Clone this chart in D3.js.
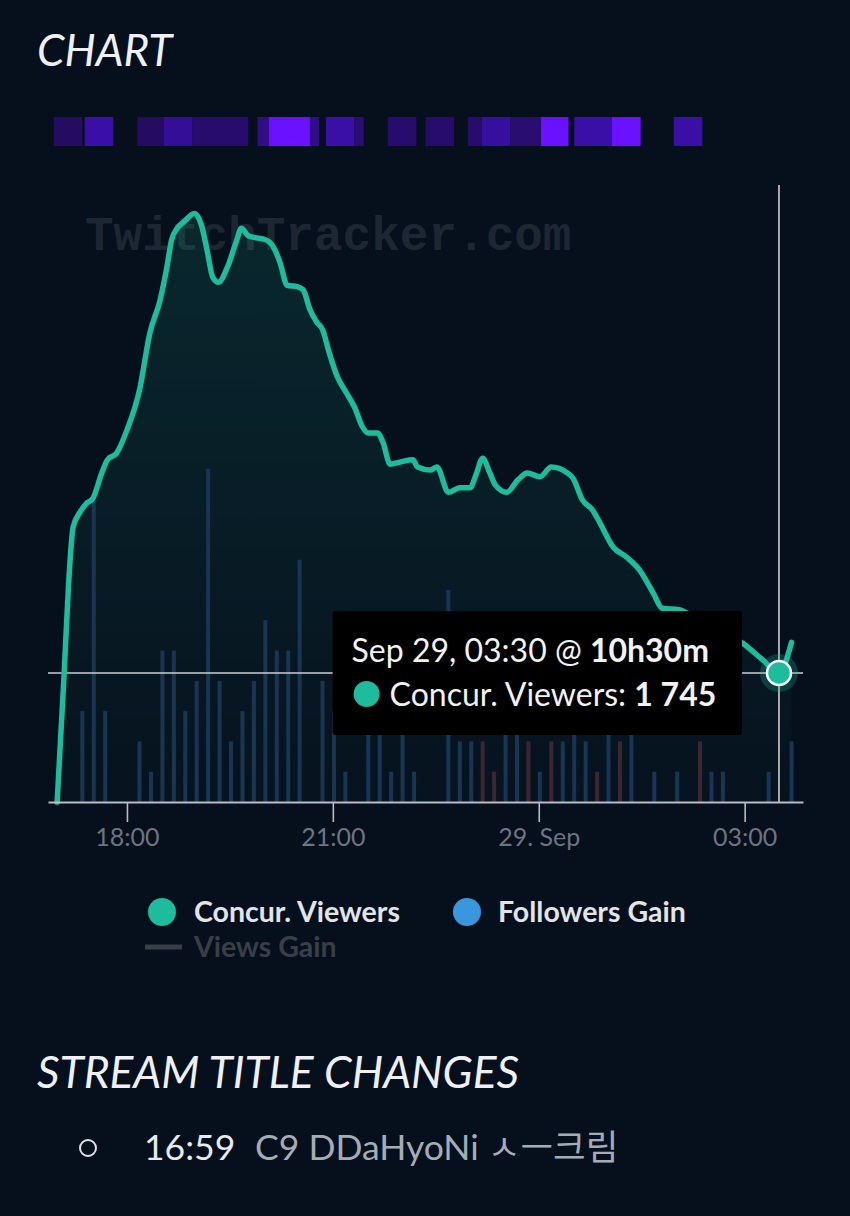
<!DOCTYPE html>
<html><head><meta charset="utf-8">
<script src="https://cdn.jsdelivr.net/npm/d3@7"></script>
<style>html,body{margin:0;padding:0;background:#060f1c;} svg{display:block;}</style>
</head><body><div id="c"></div>
<script>
// ---------- DATA ----------
const viewerTimes = ["16:59","17:05","17:09","17:13","17:19","17:25","17:30","17:38","17:43","17:51","18:00","18:11","18:20","18:29","18:35","18:39","18:44","18:50","18:59","19:05","19:10","19:15","19:20","19:28","19:36","19:40","19:46","20:02","20:08","20:14","20:20","20:29","20:34","20:40","20:46","20:51","20:57","21:04","21:12","21:19","21:26","21:31","21:39","21:44","21:50","21:59","22:10","22:14","22:25","22:31","22:41","22:51","23:00","23:05","23:11","23:17","23:22","23:32","23:42","23:50","00:01","00:11","00:25","00:30","00:38","00:47","00:53","01:05","01:17","01:28","01:40","01:48","02:03","02:09","02:34","02:58","03:16","03:30","03:41"];
const viewerValues = [0,1700,2950,3720,3920,4045,4100,4450,4630,4720,5030,5570,6340,6790,7240,7600,7760,7850,7960,7810,7470,7100,7030,7240,7600,7760,7660,7600,7510,7290,6990,6970,6930,6660,6490,6390,6070,5750,5530,5340,5070,4990,4990,4860,4570,4600,4630,4530,4490,4530,4190,4250,4250,4420,4650,4460,4290,4190,4360,4450,4400,4530,4450,4380,4090,3950,3790,3450,3310,3140,2830,2620,2600,2560,2350,2150,1920,1745,2160];

const barTimes = ["17:21","17:31","17:41","17:51","18:01","18:11","18:21","18:31","18:41","18:51","19:01","19:11","19:21","19:31","19:41","19:51","20:01","20:11","20:21","20:31","20:41","20:51","21:01","21:11","21:21","21:31","21:41","21:51","22:01","22:11","22:21","22:31","22:41","22:51","23:01","23:11","23:21","23:31","23:41","23:51","00:01","00:11","00:21","00:31","00:41","00:51","01:01","01:11","01:21","01:31","01:41","01:51","02:01","02:11","02:21","02:31","02:41","02:51","03:01","03:11","03:21","03:31","03:41"];
// followers gained per slot (negative = lost, drawn in red)
const followerGain = [3,10,3,0,0,2,1,5,5,3,4,11,4,2,3,4,6,5,5,8,0,4,3,1,0,3,3,1,3,1,0,0,7,2,2,-2,-1,3,3,-2,1,-2,2,3,2,-1,3,-2,3,0,1,0,1,0,-2,1,1,0,0,0,1,0,2];

const heatStart = ["16:56","17:23","18:09","18:32","18:57","19:54","20:04","20:40","20:54","21:19","21:48","22:21","22:58","23:10","23:35","00:02","00:31","01:04","01:58"];
const heatEnd   = ["17:21","17:48","18:32","18:57","19:46","20:04","20:40","20:48","21:19","21:27","22:13","22:46","23:10","23:35","00:02","00:26","01:04","01:29","02:23"];
const heatLevel = [1,3,1,2.5,1.3,2,5,2,3,1.5,1.3,1.3,1.3,2.7,1.4,5,3,5,3];

const tickTimes = ["18:00","21:00","00:00","03:00"];
const tickLabels = ["18:00","21:00","29. Sep","03:00"];

const hoverTime = "03:30", hoverValue = 1745, hoverLabel = "Sep 29, 03:30 @ ", hoverDuration = "10h30m";
const titleTimes = ["16:59"];
const titleTexts = ["C9 DDaHyoNi ㅅㅡ크림"];

// ---------- HELPERS ----------
const parse = s => { const [h,m] = s.split(":").map(Number); return new Date(Date.UTC(2019, 8, h >= 12 ? 28 : 29, h, m)); };

const W = 850, H = 1216;
const teal = "#1dbc9c", blue = "#3a97dd";
const svg = d3.select("#c").append("svg").attr("width", W).attr("height", H);
svg.append("rect").attr("width", W).attr("height", H).attr("fill", "#060f1c");

const x = d3.scaleUtc().domain([parse("16:51"), parse("03:51")]).range([48, 803]);
const y = d3.scaleLinear().domain([0, 8400]).range([802, 181]);
const yb = d3.scaleLinear().domain([0, 20.5]).range([802, 181]);
const heatColor = d3.scaleLinear().domain([1, 3, 5]).range(["#250c62", "#3a0fa8", "#6a12ff"]);

// Titles
svg.append("text").attr("x", 37).attr("y", 66).attr("font-family", "Lato").attr("font-style", "italic")
  .attr("font-size", 44).attr("fill", "#eef0f4").text("CHART");

// Heat strip
svg.append("g").selectAll("rect").data(heatStart).join("rect")
  .attr("x", (d, i) => x(parse(d)))
  .attr("width", (d, i) => x(parse(heatEnd[i])) - x(parse(d)))
  .attr("y", 117).attr("height", 29)
  .attr("fill", (d, i) => heatColor(heatLevel[i]));

// Watermark
svg.append("text").attr("x", 85).attr("y", 250).attr("font-family", "Liberation Mono").attr("font-weight", "bold")
  .attr("font-size", 47.7).attr("fill", "#1c2733").text("TwitchTracker.com");

// Area gradient
const defs = svg.append("defs");
const grad = defs.append("linearGradient").attr("id", "ag").attr("x1", 0).attr("y1", 0).attr("x2", 0).attr("y2", 1);
grad.append("stop").attr("offset", "0%").attr("stop-color", teal).attr("stop-opacity", 0.14);
grad.append("stop").attr("offset", "100%").attr("stop-color", teal).attr("stop-opacity", 0.02);

const pts = viewerTimes.map((t, i) => [parse(t), viewerValues[i]]);
const curve = d3.curveMonotoneX;
svg.append("path").datum(pts)
  .attr("d", d3.area().x(d => x(d[0])).y0(y(0)).y1(d => y(d[1])).curve(curve))
  .attr("fill", "url(#ag)");

// Bars
svg.append("g").selectAll("rect").data(barTimes).join("rect")
  .attr("x", d => x(parse(d)) - 2)
  .attr("width", 4)
  .attr("y", (d, i) => yb(Math.abs(followerGain[i])))
  .attr("height", (d, i) => yb(0) - yb(Math.abs(followerGain[i])))
  .attr("fill", (d, i) => followerGain[i] < 0 ? "#3c2632" : "#183653");

// Crosshairs
const hx = x(parse(hoverTime)), hy = y(hoverValue);
svg.append("line").attr("x1", hx).attr("x2", hx).attr("y1", 185).attr("y2", 802)
  .attr("stroke", "#cfcfcf").attr("stroke-width", 1.6);
svg.append("line").attr("x1", 48).attr("x2", 803).attr("y1", hy).attr("y2", hy)
  .attr("stroke", "#cfcfcf").attr("stroke-width", 1.6);

// Line
svg.append("path").datum(pts)
  .attr("d", d3.line().x(d => x(d[0])).y(d => y(d[1])).curve(curve))
  .attr("fill", "none").attr("stroke", teal).attr("stroke-width", 5.5)
  .attr("stroke-linejoin", "round").attr("stroke-linecap", "round");

// Axis
const ax = svg.append("g").attr("transform", "translate(0,802)")
  .call(d3.axisBottom(x).tickValues(tickTimes.map(parse)).tickFormat((d, i) => tickLabels[i])
    .tickSize(20).tickSizeOuter(0).tickPadding(6));
ax.select(".domain").attr("stroke", "#b9bcc0").attr("stroke-width", 2);
ax.selectAll(".tick line").attr("stroke", "#b9bcc0").attr("stroke-width", 1.6);
ax.selectAll(".tick text").attr("fill", "#6c7580").attr("font-family", "Lato").attr("font-size", 25);

// Marker
svg.append("circle").attr("cx", hx).attr("cy", hy).attr("r", 19).attr("fill", teal).attr("fill-opacity", 0.25);
svg.append("circle").attr("cx", hx).attr("cy", hy).attr("r", 12).attr("fill", teal).attr("stroke", "#ffffff").attr("stroke-width", 2.5);

// Tooltip
const tg = svg.append("g");
const box = tg.append("rect").attr("fill", "#000000");
const t1 = tg.append("text").attr("font-family", "Lato").attr("font-size", 32).attr("fill", "#f2f2f2");
t1.append("tspan").text(hoverLabel);
t1.append("tspan").attr("font-weight", "bold").text(hoverDuration);
const t2 = tg.append("text").attr("font-family", "Lato").attr("font-size", 32).attr("fill", "#f2f2f2");
t2.append("tspan").text("Concur. Viewers: ");
t2.append("tspan").attr("font-weight", "bold").text(d3.format(",")(hoverValue).replace(/,/g, " "));
const w1 = t1.node().getComputedTextLength() + 52, w2 = t2.node().getComputedTextLength() + 78;
const bw = Math.max(w1, w2), bh = 124;
const bx = hx - 37 - bw, by = hy - bh / 2;
box.attr("x", bx).attr("y", by).attr("width", bw).attr("height", bh).attr("rx", 2);
t1.attr("x", bx + 19).attr("y", by + 51);
tg.append("circle").attr("cx", bx + 34).attr("cy", by + 83).attr("r", 13).attr("fill", teal);
t2.attr("x", bx + 57).attr("y", by + 95);

// Legend
const lg = svg.append("g").attr("font-family", "Lato").attr("font-weight", "bold").attr("font-size", 28.5);
lg.append("circle").attr("cx", 162).attr("cy", 912).attr("r", 14).attr("fill", teal);
lg.append("text").attr("x", 194).attr("y", 922).attr("fill", "#e2e4e8").text("Concur. Viewers");
lg.append("circle").attr("cx", 467).attr("cy", 912).attr("r", 14).attr("fill", blue);
lg.append("text").attr("x", 498).attr("y", 922).attr("fill", "#e2e4e8").text("Followers Gain");
lg.append("line").attr("x1", 145).attr("x2", 182).attr("y1", 947).attr("y2", 947).attr("stroke", "#3a3f47").attr("stroke-width", 5);
lg.append("text").attr("x", 194).attr("y", 957).attr("fill", "#3a3f47").text("Views Gain");

// Stream title changes
svg.append("text").attr("x", 37).attr("y", 1088).attr("font-family", "Lato").attr("font-style", "italic")
  .attr("font-size", 44.3).attr("fill", "#eef0f4").text("STREAM TITLE CHANGES");
titleTimes.forEach((t, i) => {
  const yy = 1160 + i * 50;
  svg.append("circle").attr("cx", 88).attr("cy", yy - 12).attr("r", 8).attr("fill", "none").attr("stroke", "#e0e2e6").attr("stroke-width", 2);
  svg.append("text").attr("x", 144).attr("y", yy).attr("font-family", "Lato").attr("font-size", 35.5).attr("fill", "#e8eaee").text(t);
  svg.append("text").attr("x", 255).attr("y", yy).attr("font-family", "Lato, 'Noto Sans CJK KR'").attr("font-size", 35.5).attr("fill", "#a4acb6").text(titleTexts[i]);
});
</script>
</body></html>
